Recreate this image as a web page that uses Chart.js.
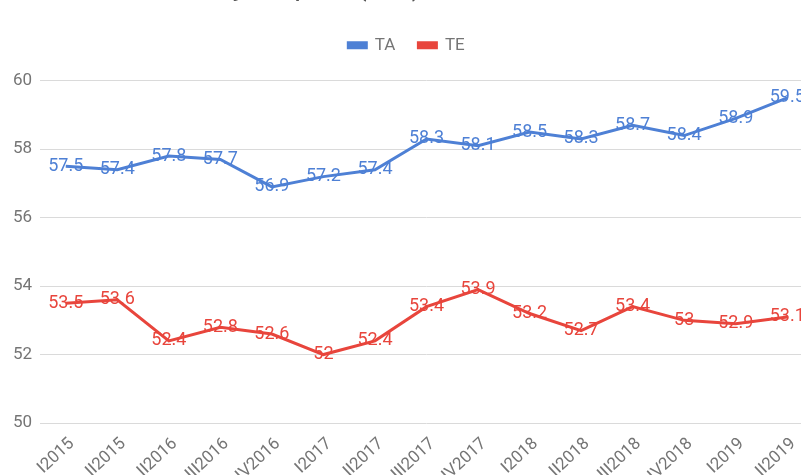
<!DOCTYPE html>
<html>
<head>
<meta charset="utf-8">
<script src="https://cdn.jsdelivr.net/npm/chart.js@4/dist/chart.umd.min.js"></script>
<style>
    html, body { margin: 0; padding: 0; background: #fff; overflow: hidden; }
    body { width: 801px; height: 475px; position: relative; }
    #wrap { position: absolute; left: 0; top: -40px; width: 813px; height: 531px; }
</style>
</head>
<body>
<div id="wrap"><canvas id="mainChart"></canvas></div>
<script>
// ========================================
// DATA
// ========================================
const quarters = ['I2015', 'II2015', 'II2016', 'III2016', 'IV2016', 'I2017', 'II2017', 'III2017',
    'IV2017', 'I2018', 'II2018', 'III2018', 'IV2018', 'I2019', 'II2019'];
const taValues = [57.5, 57.4, 57.8, 57.7, 56.9, 57.2, 57.4, 58.3, 58.1, 58.5, 58.3, 58.7, 58.4, 58.9, 59.5];
const teValues = [53.5, 53.6, 52.4, 52.8, 52.6, 52, 52.4, 53.4, 53.9, 53.2, 52.7, 53.4, 53, 52.9, 53.1];
const yTicks = [50, 52, 54, 56, 58, 60];

const BLUE = '#4e80d5';
const RED = '#e8453c';
const GREY = '#757575';

// Value labels drawn on top of each line
const valueLabels = {
    id: 'valueLabels',
    afterDatasetsDraw(chart) {
        const ctx = chart.ctx;
        ctx.save();
        ctx.font = '18px Roboto';
        ctx.textAlign = 'center';
        ctx.textBaseline = 'middle';
        chart.data.datasets.forEach((ds, i) => {
            ctx.fillStyle = ds.borderColor;
            chart.getDatasetMeta(i).data.forEach((pt, j) => {
                ctx.fillText(String(ds.data[j]), pt.x, pt.y);
            });
        });
        ctx.restore();
    }
};

// Extra room under the legend
const legendGap = {
    id: 'legendGap',
    beforeInit(chart) {
        const fit = chart.legend.fit;
        chart.legend.fit = function () {
            fit.bind(chart.legend)();
            this.height += 17;
        };
    }
};

new Chart(document.getElementById('mainChart'), {
    type: 'line',
    data: {
        labels: quarters,
        datasets: [
            { label: 'TA', data: taValues, borderColor: BLUE, backgroundColor: BLUE, borderWidth: 3, pointRadius: 0, tension: 0 },
            { label: 'TE', data: teValues, borderColor: RED, backgroundColor: RED, borderWidth: 3, pointRadius: 0, tension: 0 }
        ]
    },
    options: {
        responsive: true,
        maintainAspectRatio: false,
        animation: false,
        layout: { padding: 0 },
        plugins: {
            title: {
                display: true,
                text: 'Tasa de actividad y empleo (INE)',
                align: 'start',
                color: '#555',
                font: { family: 'Roboto', size: 29, weight: 'normal' },
                padding: { top: 10, bottom: 9, left: 50 }
            },
            legend: {
                labels: {
                    boxWidth: 18,
                    boxHeight: 5,
                    padding: 23,
                    color: GREY,
                    font: { family: 'Roboto', size: 17 }
                }
            },
            tooltip: { enabled: false }
        },
        scales: {
            x: {
                offset: true,
                grid: { display: false },
                border: { display: false },
                ticks: {
                    autoSkip: false,
                    minRotation: 43,
                    maxRotation: 43,
                    labelOffset: 6,
                    color: GREY,
                    font: { family: 'Roboto', size: 17 }
                },
                afterFit(scale) { scale.height = 68; }
            },
            y: {
                min: 50,
                max: 60,
                afterBuildTicks(scale) { scale.ticks = yTicks.map(v => ({ value: v })); },
                grid: { color: '#dadada', drawTicks: false },
                border: { display: false },
                ticks: {
                    padding: 8,
                    color: GREY,
                    font: { family: 'Roboto', size: 17 }
                },
                afterFit(scale) { scale.width = 40; }
            }
        }
    },
    plugins: [valueLabels, legendGap]
});
</script>
</body>
</html>
